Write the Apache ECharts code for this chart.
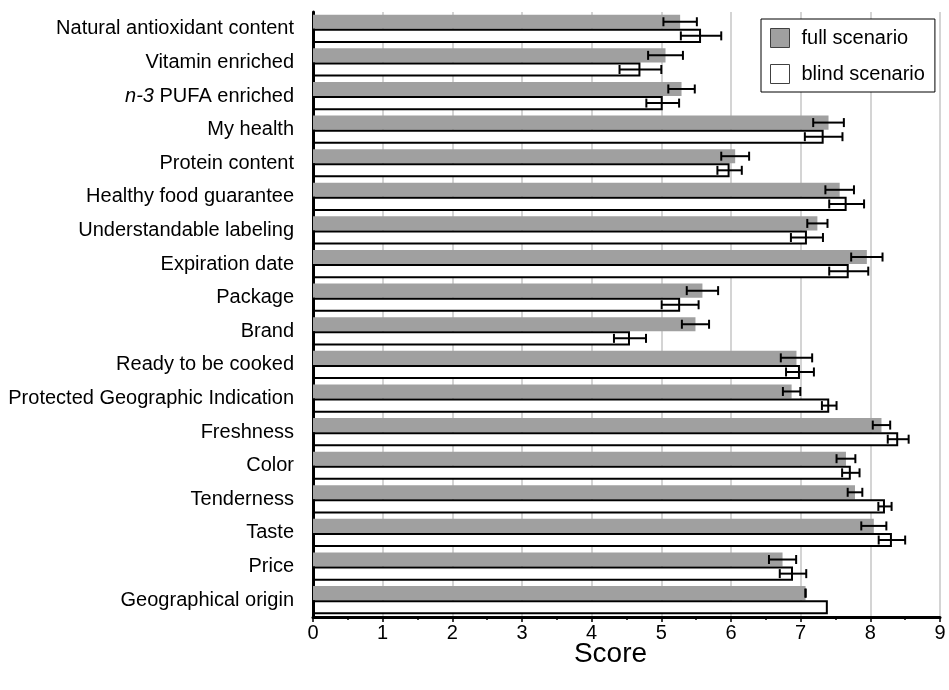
<!DOCTYPE html>
<html>
<head>
<meta charset="utf-8">
<script src="https://cdn.jsdelivr.net/npm/echarts@6/dist/echarts.min.js"></script>
<style>html,body{margin:0;padding:0;background:#fff;}#c{width:949px;height:690px;}</style>
</head>
<body>
<div id="c"></div>
<script>
var categories = [
  'Natural antioxidant content', 'Vitamin enriched', 'n-3 PUFA enriched', 'My health',
  'Protein content', 'Healthy food guarantee', 'Understandable labeling', 'Expiration date',
  'Package', 'Brand', 'Ready to be cooked', 'Protected Geographic Indication',
  'Freshness', 'Color', 'Tenderness', 'Taste', 'Price', 'Geographical origin'
];
var fullValues = [5.27, 5.06, 5.29, 7.40, 6.06, 7.56, 7.24, 7.95, 5.59, 5.49, 6.94, 6.87, 8.16, 7.65, 7.78, 8.05, 6.74, 7.07];
var fullErrors = [0.24, 0.25, 0.19, 0.22, 0.20, 0.205, 0.145, 0.225, 0.225, 0.195, 0.225, 0.125, 0.125, 0.135, 0.105, 0.18, 0.195, 0.0];
var blindValues = [5.57, 4.70, 5.02, 7.33, 5.98, 7.66, 7.09, 7.69, 5.27, 4.55, 6.99, 7.41, 8.40, 7.72, 8.21, 8.31, 6.89, 7.39];
var blindErrors = [0.29, 0.30, 0.235, 0.27, 0.175, 0.25, 0.23, 0.28, 0.265, 0.23, 0.20, 0.105, 0.15, 0.125, 0.095, 0.19, 0.19, null];
var xTicks = [0, 1, 2, 3, 4, 5, 6, 7, 8, 9];

var FONT = '"Liberation Sans", Arial, sans-serif';
var CAT_GAP = 0.16;

function errData(vals, errs) {
  var out = [];
  for (var i = 0; i < categories.length; i++) {
    if (errs[i] === null || errs[i] === undefined) continue;
    out.push([vals[i], categories[i], errs[i]]);
  }
  return out;
}

function makeRender(sign) {
  return function (params, api) {
    var v = api.value(0);
    var cat = api.value(1);
    var e = api.value(2);
    var band = api.size([0, 1])[1];
    var bw = band * (1 - CAT_GAP) / 2;
    var c = api.coord([v, cat]);
    var y = c[1] + sign * bw / 2;
    var lo = api.coord([v - e, cat])[0];
    var hi = api.coord([v + e, cat])[0];
    var h = 4.5;
    var st = { stroke: '#000', lineWidth: 2 };
    return {
      type: 'group',
      children: [
        { type: 'line', shape: { x1: lo, y1: y, x2: hi, y2: y }, style: st },
        { type: 'line', shape: { x1: lo, y1: y - h, x2: lo, y2: y + h }, style: st },
        { type: 'line', shape: { x1: hi, y1: y - h, x2: hi, y2: y + h }, style: st }
      ]
    };
  };
}

var chart = echarts.init(document.getElementById('c'), null, { renderer: 'canvas' });
chart.setOption({
  animation: false,
  backgroundColor: '#fff',
  textStyle: { fontFamily: FONT },
  grid: { left: 313, right: 9, top: 12, bottom: 73 },
  legend: {
    orient: 'vertical',
    left: 761,
    top: 19,
    padding: [9, 10, 8, 9],
    itemWidth: 19,
    itemHeight: 19,
    itemGap: 16,
    borderColor: '#000',
    borderWidth: 1,
    backgroundColor: '#fff',
    textStyle: { fontSize: 20, color: '#000', fontFamily: FONT, padding: [0, 0, 0, 7] },
    data: [
      { name: 'full scenario', icon: 'rect', itemStyle: { color: '#a0a0a0', borderColor: '#404040', borderWidth: 1 } },
      { name: 'blind scenario', icon: 'rect', itemStyle: { color: '#fff', borderColor: '#404040', borderWidth: 1 } }
    ]
  },
  xAxis: {
    type: 'value',
    min: xTicks[0],
    max: xTicks[xTicks.length - 1],
    interval: 1,
    name: 'Score',
    nameLocation: 'middle',
    nameGap: 23,
    nameMoveOverlap: false,
    nameTextStyle: { fontSize: 28, color: '#000', fontFamily: FONT, padding: [0, 32, 0, 0] },
    axisLine: { show: true, lineStyle: { color: '#000', width: 3 } },
    axisTick: { show: true, length: 5, lineStyle: { color: '#000', width: 1.5 } },
    minorTick: { show: true, splitNumber: 2, length: 3, lineStyle: { color: '#000', width: 1.5 } },
    splitLine: { show: true, lineStyle: { color: '#d4d4d4', width: 2 } },
    axisLabel: { fontSize: 20, color: '#000', margin: 6, fontFamily: FONT }
  },
  yAxis: {
    type: 'category',
    inverse: true,
    data: categories,
    axisLine: { show: true, lineStyle: { color: '#000', width: 3 } },
    axisTick: { show: false },
    splitLine: { show: false },
    axisLabel: {
      fontSize: 20, color: '#000', margin: 19, fontFamily: FONT,
      formatter: function (v) {
        if (v === 'n-3 PUFA enriched') return '{i|n-3} PUFA enriched';
        return v;
      },
      rich: { i: { fontStyle: 'italic', fontSize: 20, color: '#000', fontFamily: FONT } }
    }
  },
  series: [
    {
      name: 'full scenario', type: 'bar', data: fullValues,
      barGap: '0%', barCategoryGap: (CAT_GAP * 100) + '%',
      itemStyle: { color: '#a0a0a0' }, z: 2
    },
    {
      name: 'blind scenario', type: 'bar', data: blindValues,
      barGap: '0%', barCategoryGap: (CAT_GAP * 100) + '%',
      itemStyle: { color: '#fff', borderColor: '#000', borderWidth: 2 }, z: 2
    },
    {
      name: 'full err', type: 'custom', renderItem: makeRender(-1),
      data: errData(fullValues, fullErrors), encode: { x: 0, y: 1 }, z: 5
    },
    {
      name: 'blind err', type: 'custom', renderItem: makeRender(1),
      data: errData(blindValues, blindErrors), encode: { x: 0, y: 1 }, z: 5
    }
  ]
});
</script>
</body>
</html>
